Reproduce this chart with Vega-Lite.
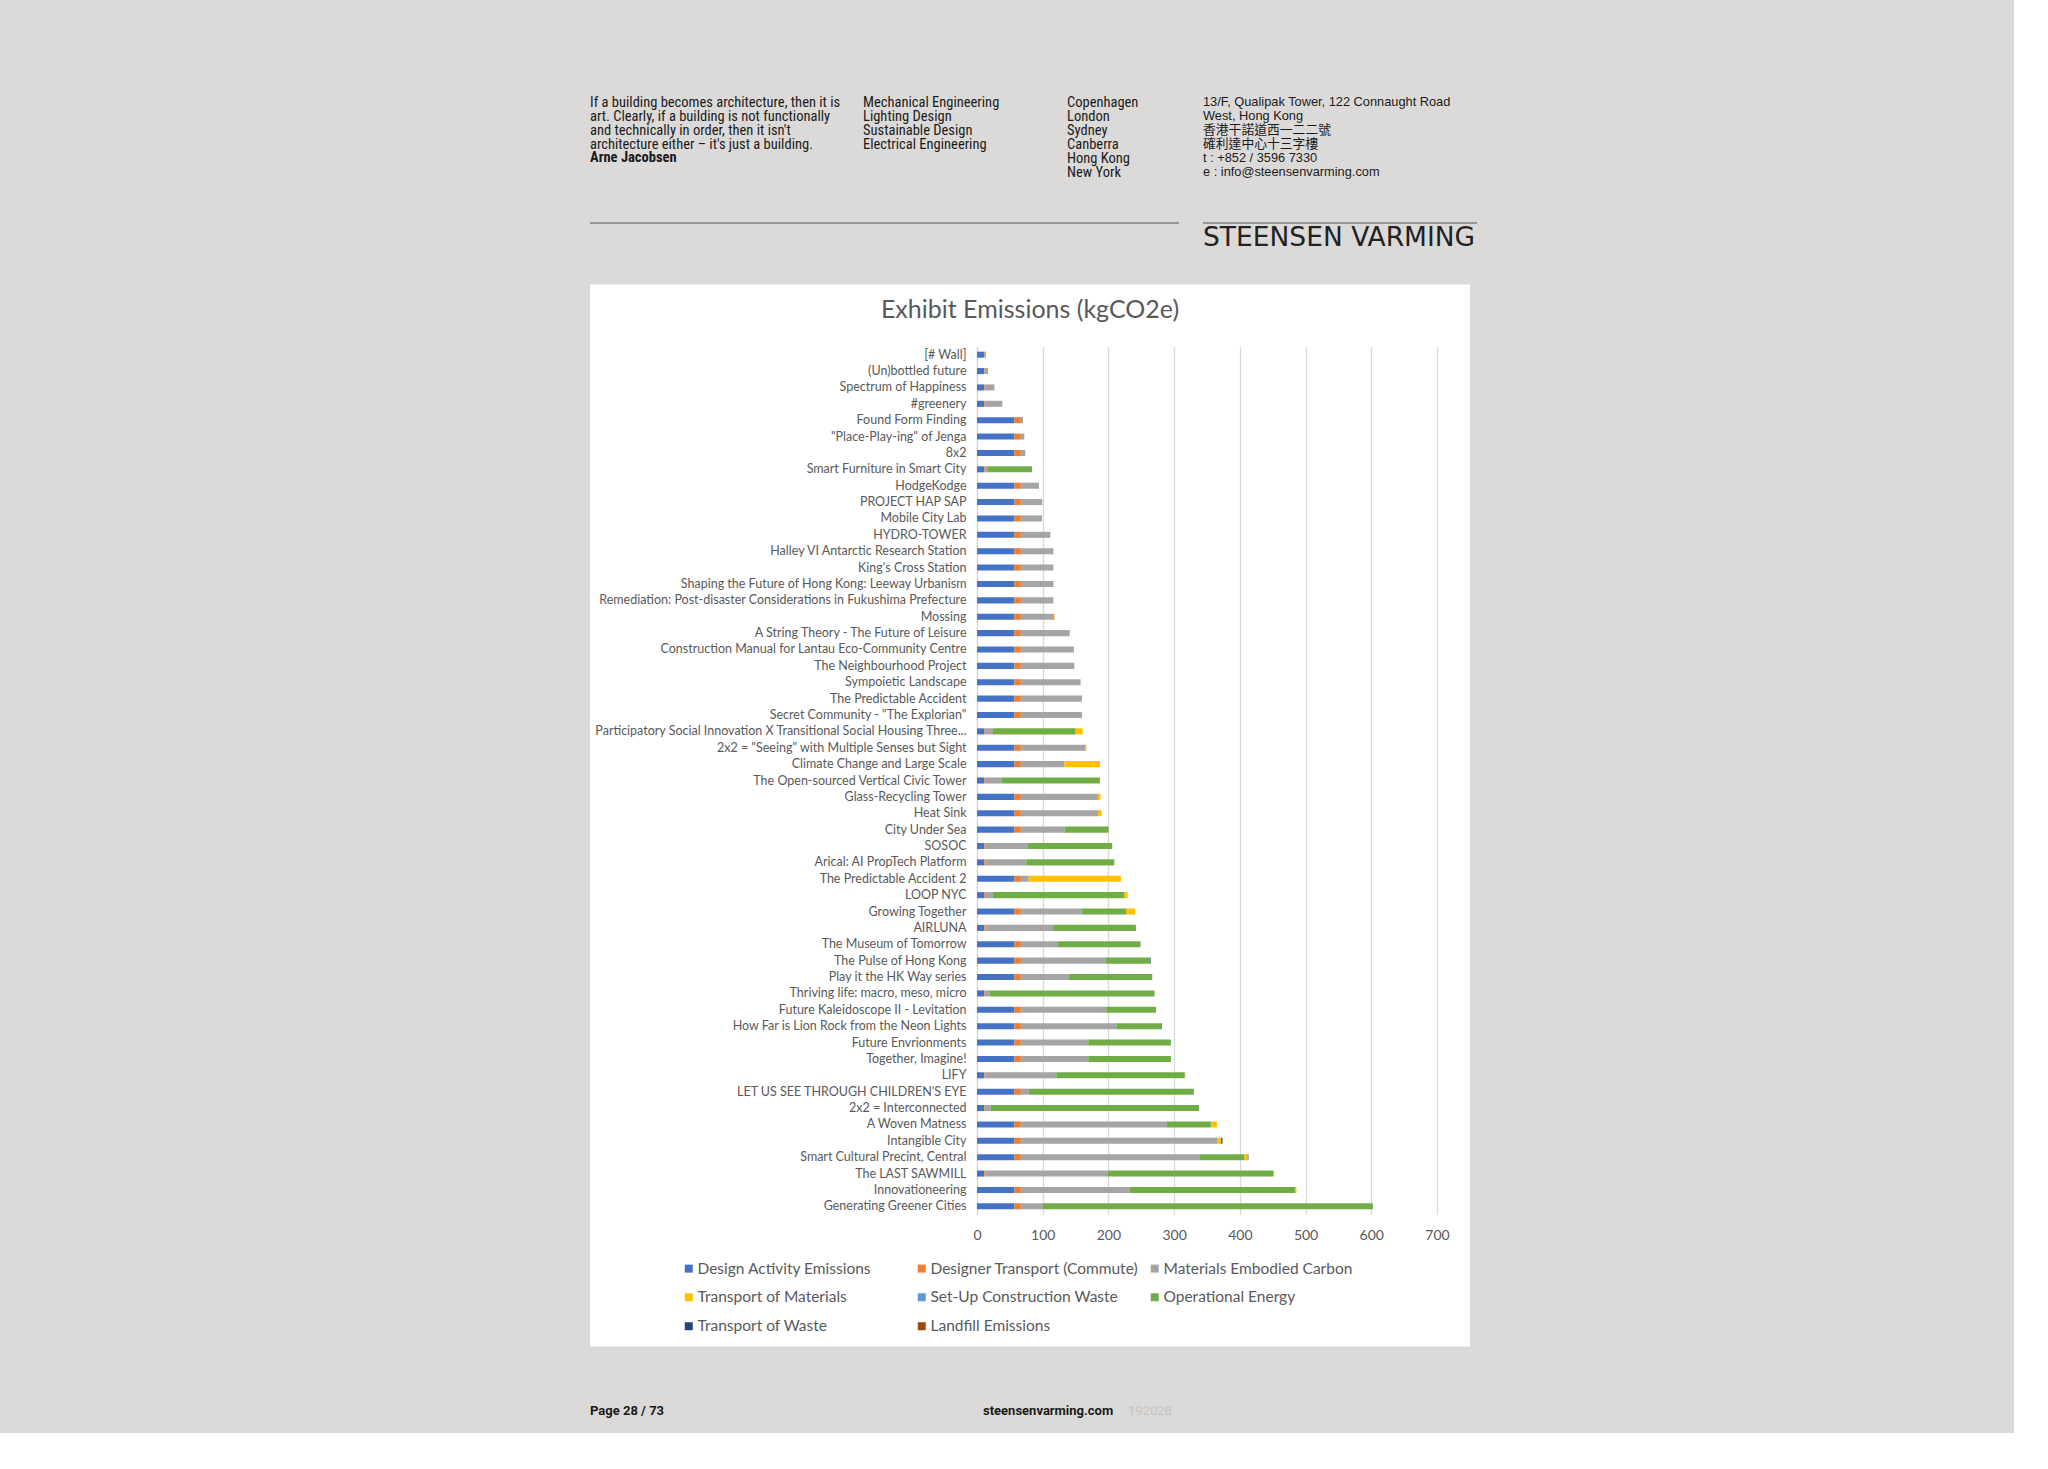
{
  "$schema": "https://vega.github.io/schema/vega-lite/v6.json",
  "background": "#dcdad8",
  "padding": {"left": 590, "top": 90.5, "right": 537, "bottom": 15},
  "spacing": 33,
  "config": {
    "view": {"stroke": null},
    "title": {"fontWeight": "normal", "color": "#1a1a1a", "anchor": "start", "frame": "group", "offset": 0, "lineHeight": 14, "subtitleLineHeight": 14, "subtitlePadding": 0}
  },
  "datasets": {
    "series": [
      {"key": "design", "name": "Design Activity Emissions"},
      {"key": "commute", "name": "Designer Transport (Commute)"},
      {"key": "materials", "name": "Materials Embodied Carbon"},
      {"key": "transport", "name": "Transport of Materials"},
      {"key": "setup", "name": "Set-Up Construction Waste"},
      {"key": "operational", "name": "Operational Energy"},
      {"key": "wasteTransport", "name": "Transport of Waste"},
      {"key": "landfill", "name": "Landfill Emissions"}
    ],
    "projects": [
      {"project": "[# Wall]", "design": 11, "commute": 0.8, "materials": 2},
      {"project": "(Un)bottled future", "design": 11, "commute": 0.8, "materials": 5},
      {"project": "Spectrum of Happiness", "design": 11, "commute": 1, "materials": 14.5},
      {"project": "#greenery", "design": 11, "commute": 1, "materials": 26.5},
      {"project": "Found Form Finding", "design": 57, "commute": 9.7, "materials": 3.3},
      {"project": "\"Place-Play-ing\" of Jenga", "design": 57, "commute": 9.7, "materials": 5.3},
      {"project": "8x2", "design": 57, "commute": 9.7, "materials": 6.8},
      {"project": "Smart Furniture in Smart City", "design": 11, "commute": 1, "materials": 4.7, "operational": 67},
      {"project": "HodgeKodge", "design": 57, "commute": 9.7, "materials": 27.6},
      {"project": "PROJECT HAP SAP", "design": 57, "commute": 9.7, "materials": 32.7},
      {"project": "Mobile City Lab", "design": 57, "commute": 9.7, "materials": 32.2},
      {"project": "HYDRO-TOWER", "design": 57, "commute": 9.7, "materials": 44.9},
      {"project": "Halley VI Antarctic Research Station", "design": 57, "commute": 9.7, "materials": 49.5},
      {"project": "King's Cross Station", "design": 57, "commute": 9.7, "materials": 49.5},
      {"project": "Shaping the Future of Hong Kong: Leeway Urbanism", "design": 57, "commute": 9.7, "materials": 49.5},
      {"project": "Remediation: Post-disaster Considerations in Fukushima Prefecture", "design": 57, "commute": 9.7, "materials": 49.5},
      {"project": "Mossing", "design": 57, "commute": 9.7, "materials": 50.4, "transport": 1},
      {"project": "A String Theory - The Future of Leisure", "design": 57, "commute": 9.7, "materials": 74.3},
      {"project": "Construction Manual for Lantau Eco-Community Centre", "design": 57, "commute": 9.7, "materials": 80.8},
      {"project": "The Neighbourhood Project", "design": 57, "commute": 9.7, "materials": 81.3},
      {"project": "Sympoietic Landscape", "design": 57, "commute": 9.7, "materials": 91},
      {"project": "The Predictable Accident", "design": 57, "commute": 9.7, "materials": 93},
      {"project": "Secret Community - \"The Explorian\"", "design": 57, "commute": 9.7, "materials": 93},
      {"project": "Participatory Social Innovation X Transitional Social Housing Three...", "design": 11, "commute": 1, "materials": 12.3, "transport": 10.7, "operational": 125.7},
      {"project": "2x2 = \"Seeing\" with Multiple Senses but Sight", "design": 57, "commute": 9.7, "materials": 98.6, "transport": 1},
      {"project": "Climate Change and Large Scale", "design": 57, "commute": 9.7, "materials": 66.6, "transport": 53.8},
      {"project": "The Open-sourced Vertical Civic Tower", "design": 11, "commute": 1, "materials": 25, "operational": 150},
      {"project": "Glass-Recycling Tower", "design": 57, "commute": 9.7, "materials": 117.3, "transport": 4},
      {"project": "Heat Sink", "design": 57, "commute": 9.7, "materials": 117.3, "transport": 5.6},
      {"project": "City Under Sea", "design": 57, "commute": 9.7, "materials": 66.6, "operational": 67},
      {"project": "SOSOC", "design": 11, "commute": 1, "materials": 64.6, "operational": 129.2},
      {"project": "Arical: AI PropTech Platform", "design": 11, "commute": 1.5, "materials": 62.5, "operational": 133.9},
      {"project": "The Predictable Accident 2", "design": 57, "commute": 9.7, "materials": 11.9, "transport": 140.4},
      {"project": "LOOP NYC", "design": 11, "commute": 1, "materials": 12.3, "transport": 5.1, "operational": 199.8},
      {"project": "Growing Together", "design": 57, "commute": 9.7, "materials": 92.5, "transport": 13.7, "operational": 67.9},
      {"project": "AIRLUNA", "design": 11, "commute": 1.5, "materials": 103.1, "operational": 126.2},
      {"project": "The Museum of Tomorrow", "design": 57, "commute": 9.7, "materials": 56.5, "operational": 125.7},
      {"project": "The Pulse of Hong Kong", "design": 57, "commute": 9.7, "materials": 128.5, "operational": 68.4, "wasteTransport": 0.8},
      {"project": "Play it the HK Way series", "design": 57, "commute": 9.7, "materials": 73.2, "operational": 126.8},
      {"project": "Thriving life: macro, meso, micro", "design": 11, "commute": 1, "materials": 7.8, "operational": 250.4},
      {"project": "Future Kaleidoscope II - Levitation", "design": 57, "commute": 9.7, "materials": 130, "operational": 75.6},
      {"project": "How Far is Lion Rock from the Neon Lights", "design": 57, "commute": 9.7, "materials": 145.2, "operational": 68.5, "wasteTransport": 0.8},
      {"project": "Future Envrionments", "design": 57, "commute": 9.7, "materials": 102.6, "operational": 125.8},
      {"project": "Together, Imagine!", "design": 57, "commute": 9.7, "materials": 102.6, "operational": 125.8},
      {"project": "LIFY", "design": 11, "commute": 1, "materials": 108.7, "transport": 0.8, "operational": 195.4},
      {"project": "LET US SEE THROUGH CHILDREN'S EYE", "design": 57, "commute": 9.7, "materials": 12.4, "operational": 251},
      {"project": "2x2 = Interconnected", "design": 11, "commute": 1, "materials": 8.8, "operational": 316.9},
      {"project": "A Woven Matness", "design": 57, "commute": 9.7, "materials": 222.3, "transport": 9.1, "operational": 66.9},
      {"project": "Intangible City", "design": 57, "commute": 9.7, "materials": 299.3, "transport": 5.6, "wasteTransport": 2},
      {"project": "Smart Cultural Precint, Central", "design": 57, "commute": 9.7, "materials": 272.5, "transport": 5.6, "operational": 67.4, "wasteTransport": 0.8},
      {"project": "The LAST SAWMILL", "design": 11, "commute": 1.5, "materials": 186.8, "transport": 1.5, "operational": 251.4},
      {"project": "Innovationeering", "design": 57, "commute": 9.7, "materials": 165.5, "transport": 2.5, "operational": 251.5},
      {"project": "Generating Greener Cities", "design": 57, "commute": 9.7, "materials": 33.7, "operational": 501.9}
    ]
  },
  "vconcat": [
    {
      "spacing": 0,
      "hconcat": [
        {"width": 273, "height": 1, "data": {"values": []}, "mark": "text",
         "title": {"text": ["If a building becomes architecture, then it is", "art. Clearly, if a building is not functionally", "and technically in order, then it isn't", "architecture either – it's just a building."], "subtitle": "Arne Jacobsen", "orient": "bottom", "baseline": "top", "font": "Roboto Condensed, DejaVu Sans Condensed, Roboto", "fontSize": 14.5, "subtitleFont": "Roboto Condensed, DejaVu Sans Condensed, Roboto", "subtitleFontSize": 14.5, "subtitleFontWeight": "bold", "subtitleColor": "#1a1a1a", "subtitlePadding": -1.5}},
        {"width": 204, "height": 1, "data": {"values": []}, "mark": "text",
         "title": {"text": ["Mechanical Engineering", "Lighting Design", "Sustainable Design", "Electrical Engineering"], "orient": "bottom", "baseline": "top", "font": "Roboto Condensed, DejaVu Sans Condensed, Roboto", "fontSize": 14.5}},
        {"width": 136, "height": 1, "data": {"values": []}, "mark": "text",
         "title": {"text": ["Copenhagen", "London", "Sydney", "Canberra", "Hong Kong", "New York"], "orient": "bottom", "baseline": "top", "font": "Roboto Condensed, DejaVu Sans Condensed, Roboto", "fontSize": 14.5}},
        {"width": 270, "height": 1, "data": {"values": []}, "mark": "text",
         "title": {"text": ["13/F, Qualipak Tower, 122 Connaught Road", "West, Hong Kong", "香港干諾道西一二二號", "確利達中心十三字樓", "t : +852 / 3596 7330", "e : info@steensenvarming.com"], "orient": "bottom", "baseline": "top", "font": "Liberation Sans, Noto Sans CJK TC", "fontSize": 12.8}},
        {"width": 1, "height": 98.5, "data": {"values": []}, "mark": "text"}
      ]
    },
    {
      "spacing": 24,
      "hconcat": [
        {"width": 589, "height": 1, "view": {"fill": "#555555", "stroke": null}, "data": {"values": []}, "mark": "text"},
        {"width": 274, "height": 1, "view": {"fill": "#555555", "stroke": null}, "data": {"values": []}, "mark": "text",
         "title": {"text": "STEENSEN VARMING", "orient": "bottom", "baseline": "top", "offset": 1, "font": "DejaVu Sans", "fontSize": 26.5, "color": "#222222"}}
      ]
    },
    {
      "width": 880,
      "height": 1062,
      "view": {"fill": "white", "stroke": null},
      "title": {"text": "Exhibit Emissions (kgCO2e)", "orient": "top", "anchor": "middle", "frame": "group", "font": "Lato", "fontSize": 25, "color": "#595959", "offset": -50, "baseline": "middle"},
      "data": {"name": "projects"},
      "transform": [
        {"fold": ["design", "commute", "materials", "transport", "setup", "operational", "wasteTransport", "landfill"], "as": ["key", "value"]},
        {"filter": "datum.value > 0"},
        {"lookup": "key", "from": {"data": {"name": "series"}, "key": "key", "fields": ["name"]}}
      ],
      "mark": {"type": "bar"},
      "encoding": {
        "y": {
          "field": "project", "type": "nominal", "sort": null,
          "scale": {"range": [62, 930], "paddingInner": 0.63, "paddingOuter": 0.315},
          "axis": {"title": null, "offset": -387, "domainColor": "#d9d9d9", "domainWidth": 1.3, "ticks": false, "labelPadding": 11, "labelFont": "Lato", "labelFontSize": 12.5, "labelColor": "#595959", "labelLimit": 420, "grid": false}
        },
        "x": {
          "field": "value", "type": "quantitative", "stack": "zero",
          "scale": {"domain": [0, 700], "range": [387, 847], "nice": false},
          "axis": {"title": null, "orient": "top", "offset": -930, "values": [0, 100, 200, 300, 400, 500, 600, 700], "domain": false, "ticks": false, "grid": true, "gridColor": "#d9d9d9", "gridWidth": 1.3, "labelPadding": -21, "labelBaseline": "middle", "labelFlush": false, "labelFont": "Lato", "labelFontSize": 14, "labelColor": "#595959"}
        },
        "color": {
          "field": "name", "type": "nominal",
          "sort": ["Design Activity Emissions", "Designer Transport (Commute)", "Materials Embodied Carbon", "Transport of Materials", "Set-Up Construction Waste", "Operational Energy", "Transport of Waste", "Landfill Emissions"],
          "scale": {
            "domain": ["Design Activity Emissions", "Designer Transport (Commute)", "Materials Embodied Carbon", "Transport of Materials", "Set-Up Construction Waste", "Operational Energy", "Transport of Waste", "Landfill Emissions"],
            "range": ["#4472C4", "#ED7D31", "#A5A5A5", "#FFC000", "#5B9BD5", "#70AD47", "#264478", "#9E480E"]
          },
          "legend": {"orient": "none", "direction": "horizontal", "legendX": 91, "legendY": 1170, "columns": 3, "title": null, "symbolType": "square", "symbolSize": 64, "symbolStrokeWidth": 0, "labelFont": "Lato", "labelFontSize": 15.5, "labelColor": "#595959", "labelOffset": 1, "rowPadding": 12, "columnPadding": 8, "gridAlign": "all", "labelLimit": 300, "padding": 0}
        }
      }
    },
    {
      "spacing": 0,
      "hconcat": [
        {"width": 393, "height": 1, "data": {"values": []}, "mark": "text",
         "title": {"text": "Page 28 / 73", "orient": "bottom", "baseline": "top", "offset": 24, "font": "Roboto", "fontSize": 13, "fontWeight": "bold"}},
        {"width": 145, "height": 1, "data": {"values": []}, "mark": "text",
         "title": {"text": "steensenvarming.com", "orient": "bottom", "baseline": "top", "offset": 24, "font": "Roboto", "fontSize": 13, "fontWeight": "bold"}},
        {"width": 100, "height": 1, "data": {"values": []}, "mark": "text",
         "title": {"text": "192028", "orient": "bottom", "baseline": "top", "offset": 24, "font": "Roboto", "fontSize": 13, "color": "#c4c2c0"}}
      ]
    }
  ]
}
